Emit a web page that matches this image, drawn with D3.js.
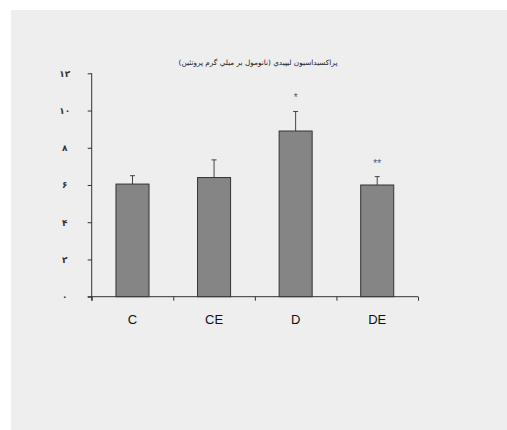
<!DOCTYPE html>
<html>
<head>
<meta charset="utf-8">
<script src="https://cdn.jsdelivr.net/npm/d3@7"></script>
<style>
  body { margin: 0; background: #fff; }
  svg { display: block; }
</style>
</head>
<body>
<div id="chart"></div>
<script>
const categories = ["C", "CE", "D", "DE"];
const means = [6.05, 6.4, 8.9, 6.0];
const errors = [0.45, 0.95, 1.05, 0.45];
const marks = ["", "", "*", "**"];
const yTicks = [0, 2, 4, 6, 8, 10, 12];
const yTickLabels = ["۰", "۲", "۴", "۶", "۸", "۱۰", "۱۲"];
const title = "پراكسيداسيون ليپيدي (نانومول بر ميلي گرم پروتئين)";

const W = 507, H = 430;
const margin = { left: 91.7, right: 89, top: 73.3, bottom: 133.3 };
const width = W - margin.left - margin.right,
    height = H - margin.top - margin.bottom;

const svg = d3.select("#chart").append("svg")
    .attr("width", W).attr("height", H);

// grey panel
svg.append("rect")
    .attr("x", 11).attr("y", 10)
    .attr("width", W - 11).attr("height", H - 10)
    .attr("fill", "#eeeeee");

const g = svg.append("g")
    .attr("transform", `translate(${margin.left},${margin.top})`);

const x = d3.scaleBand().domain(categories).range([0, width]).padding(0);
const y = d3.scaleLinear().domain([0, 12]).range([height, 0]);
const barW = x.bandwidth() * 0.405;

// title
svg.append("text")
    .attr("x", 258).attr("y", 65)
    .attr("text-anchor", "middle")
    .attr("direction", "rtl")
    .style("font-family", "'DejaVu Sans', sans-serif")
    .style("font-size", "7.3px")
    .attr("fill", "#222")
    .text(title);

// y axis
const yAxis = g.append("g")
    .call(d3.axisLeft(y).tickValues(yTicks).tickSize(4).tickPadding(23)
        .tickFormat((d, i) => yTickLabels[i]));
yAxis.select(".domain").attr("d", `M0,${height + 4}V0`).attr("stroke", "#333");
yAxis.selectAll(".tick line").attr("stroke", "#333");
yAxis.selectAll("text")
    .attr("text-anchor", "middle")
    .style("font-family", "'DejaVu Sans', sans-serif")
    .style("font-size", "9px")
    .style("font-weight", "bold")
    .attr("fill", "#333");

// x axis
const xAxis = g.append("g")
    .attr("transform", `translate(0,${height})`)
    .call(d3.axisBottom(d3.scaleLinear().domain([0, 4]).range([0, width]))
        .ticks(4).tickSize(4).tickFormat(""));
xAxis.select(".domain").attr("d", `M-4,0H${width}`).attr("stroke", "#333");
xAxis.selectAll(".tick line").attr("stroke", "#333");

// category labels
g.selectAll(".cat")
    .data(categories)
    .enter().append("text")
    .attr("class", "cat")
    .attr("x", d => x(d) + x.bandwidth() / 2)
    .attr("y", height + 27)
    .attr("text-anchor", "middle")
    .style("font-family", "'Liberation Sans', Arial, sans-serif")
    .style("font-size", "13px")
    .attr("fill", "#111")
    .text(d => d);

// error bars
g.selectAll(".err")
    .data(categories)
    .enter().append("path")
    .attr("class", "err")
    .attr("d", (d, i) => {
        const cx = x(d) + x.bandwidth() / 2;
        return `M${cx},${y(means[i])}V${y(means[i] + errors[i])}M${cx - 2.5},${y(means[i] + errors[i])}H${cx + 2.5}`;
    })
    .attr("stroke", "#444")
    .attr("stroke-width", 1)
    .attr("fill", "none");

// bars
g.selectAll(".bar")
    .data(categories)
    .enter().append("rect")
    .attr("class", "bar")
    .attr("x", d => x(d) + (x.bandwidth() - barW) / 2)
    .attr("y", (d, i) => y(means[i]))
    .attr("width", barW)
    .attr("height", (d, i) => height - y(means[i]))
    .attr("fill", "#858585")
    .attr("stroke", "#333")
    .attr("stroke-width", 1);

// significance marks
g.selectAll(".sig")
    .data(categories)
    .enter().append("text")
    .attr("class", "sig")
    .attr("x", d => x(d) + x.bandwidth() / 2)
    .attr("y", (d, i) => y(means[i] + errors[i]) - 10)
    .attr("text-anchor", "middle")
    .style("font-family", "'Liberation Sans', Arial, sans-serif")
    .style("font-size", "10px")
    .attr("fill", "#555")
    .text((d, i) => marks[i]);
</script>
</body>
</html>
